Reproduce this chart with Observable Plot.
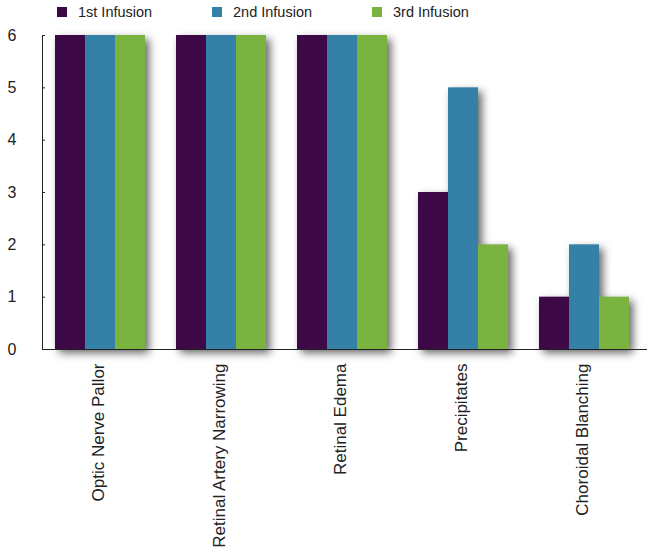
<!DOCTYPE html>
<html>
<head>
<meta charset="utf-8">
<script src="https://cdn.jsdelivr.net/npm/d3@7"></script>
<script src="https://cdn.jsdelivr.net/npm/@observablehq/plot@0.6"></script>
<style>
  body { margin: 0; background: #fff; font-family: "Liberation Sans", Arial, sans-serif; }
  #legend { position: relative; width: 652px; height: 28px; }
  .item { position: absolute; top: 4px; display: flex; align-items: center; font-size: 14.5px; color: #222; }
  .sw { width: 10px; height: 10px; margin-right: 11px; }
</style>
</head>
<body>
<div id="legend"></div>
<div id="chart"></div>
<script>
const categories = ["Optic Nerve Pallor", "Retinal Artery Narrowing", "Retinal Edema", "Precipitates", "Choroidal Blanching"];
const series = ["1st Infusion", "2nd Infusion", "3rd Infusion"];
const first = [6, 6, 6, 3, 1];
const second = [6, 6, 6, 5, 2];
const third = [6, 6, 6, 2, 1];
const colors = ["#3c0846", "#3480a6", "#7ab33f"];
const yTicks = [0, 1, 2, 3, 4, 5, 6];

const values = [first, second, third];
const data = categories.flatMap((c, i) => values.map((arr, j) => ({category: c, series: series[j], value: arr[i]})));

// legend
const legendLeft = [57, 212, 372];
const legend = document.getElementById("legend");
series.forEach((s, j) => {
  const it = document.createElement("div");
  it.className = "item";
  it.style.left = legendLeft[j] + "px";
  const sw = document.createElement("span");
  sw.className = "sw";
  sw.style.background = colors[j];
  const t = document.createElement("span");
  t.textContent = s;
  it.appendChild(sw); it.appendChild(t);
  legend.appendChild(it);
});

const chart = Plot.plot({
  width: 652,
  height: 528,
  marginLeft: 42,
  marginRight: 5,
  marginTop: 7,
  marginBottom: 207,
  style: {fontFamily: "'Liberation Sans', Arial, sans-serif", color: "#222", background: "#fff"},
  fx: {domain: categories, padding: 0, label: null, axis: null},
  x: {domain: series, axis: null, paddingInner: 0, paddingOuter: 0.5, align: 0.42},
  y: {domain: [0, 6], ticks: yTicks, label: null},
  color: {domain: series, range: colors},
  marks: [
    Plot.barY(data, {fx: "category", x: "series", y: "value", fill: "series",
      imageFilter: "drop-shadow(4px 4px 4px rgba(0,0,0,0.6))"}),
    Plot.ruleY([0], {stroke: "#222", strokeWidth: 1.2}),
    Plot.frame({anchor: "left", facetAnchor: "left", stroke: "#222"}),
    Plot.axisY({ticks: yTicks, tickFormat: d3.format("d"), tickSize: 0, tickPadding: 26, fontSize: 16, label: null}),
    Plot.axisY({ticks: yTicks, tickSize: -3, text: null, label: null}),
    Plot.text(categories, {fx: d => d, text: d => d, frameAnchor: "bottom", rotate: -90,
      textAnchor: "end", dy: 14, dx: 1, fontSize: 17, fill: "#222"})
  ]
});
document.getElementById("chart").appendChild(chart);
</script>
</body>
</html>
